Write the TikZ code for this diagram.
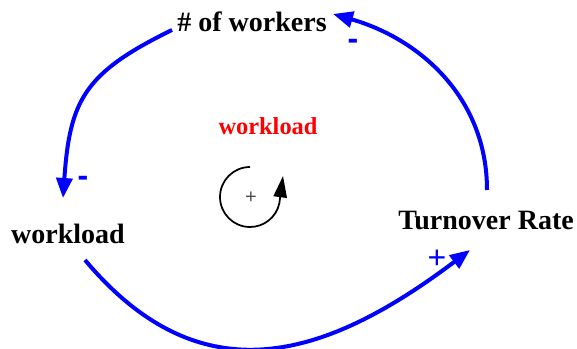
\documentclass[tikz,border=0pt]{standalone}
\usepackage{fontspec}
\setmainfont{Liberation Serif}
\setsansfont{Liberation Sans}
\usetikzlibrary{arrows.meta}
\definecolor{linkblue}{HTML}{0000FF}
\definecolor{looptitle}{HTML}{FF0000}

\begin{document}
\begin{tikzpicture}[
    x=0.75pt, y=-0.75pt,
    >={Triangle[length=15pt, width=12pt]},
    var/.style={font=\fontsize{21}{24}\selectfont\bfseries, inner sep=2pt},
    link/.style={->, line width=3pt, linkblue},
    sign/.style={font=\fontsize{24}{24}\selectfont\sffamily#1, text=linkblue, inner sep=0pt},
]
    \useasboundingbox (0,0) rectangle (577,349);

    % Variables
    \node[var] (workers) at (252,22) {\# of workers};
    \node[var] (load) at (68,234) {workload};
    \node[var] (turnover) at (486,221) {Turnover Rate};

    % Loop title and marker
    \node[font=\fontsize{18.3}{20}\selectfont\bfseries, text=looptitle] (title) at (268,126) {workload};
    \node[font=\fontsize{15}{15}\selectfont\sffamily, text=black!70, inner sep=0pt] (polarity) at (251,198) {+};
    \draw[->, line width=1.3pt, >={Triangle[length=16pt, width=10pt]}]
        ([shift={(-1,-31)}]polarity.center) arc[start angle=270, end angle=12, radius=30] -- ([shift={(32,-22)}]polarity.center);

    % Causal links
    \draw[link] ([shift={(-80,8)}]workers.center) to[out=206, in=86, looseness=1.25] ([shift={(-5,-36)}]load.center);
    \draw[link] ([shift={(17,26)}]load.center) to[out=-50, in=-143, looseness=1.2] ([shift={(-16,29)}]turnover.center);
    \draw[link] ([shift={(1,-31)}]turnover.center) to[out=90, in=-16] ([shift={(81,-8)}]workers.center);

    % Link polarities
    \node[sign=\bfseries] (s-workers) at (353,44) {-};
    \node[sign=\bfseries] (s-load) at (83,181) {-};
    \node[sign] (s-turnover) at (437,259) {+};
\end{tikzpicture}
\end{document}
